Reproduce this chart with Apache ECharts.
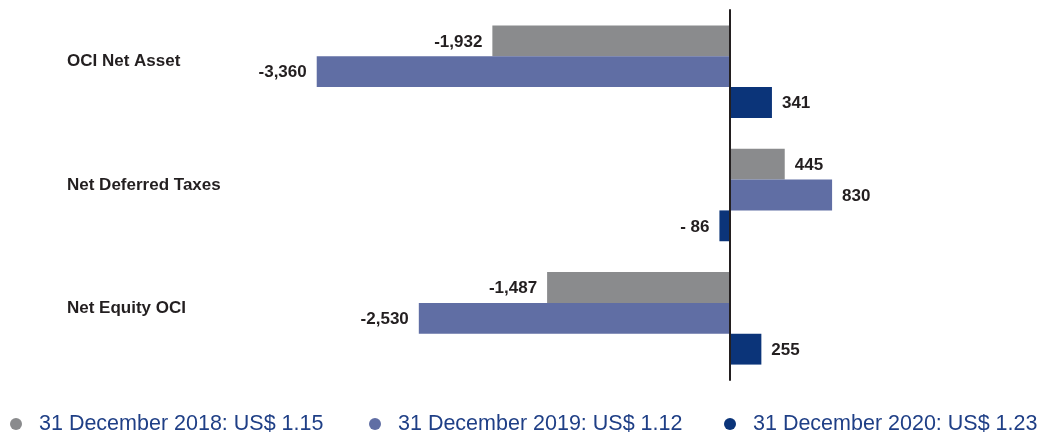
<!DOCTYPE html>
<html>
<head>
<meta charset="utf-8">
<script src="https://cdn.jsdelivr.net/npm/echarts@6/dist/echarts.min.js"></script>
<style>
  html, body { margin: 0; padding: 0; background: #fff; }
  #main { width: 1042px; height: 432px; }
</style>
</head>
<body>
<div id="main"></div>
<script>
// categories, top to bottom
var categories = ['OCI Net Asset', 'Net Deferred Taxes', 'Net Equity OCI'];
// series names (legend)
var seriesNames = [
    '31 December 2018: US$ 1.15',
    '31 December 2019: US$ 1.12',
    '31 December 2020: US$ 1.23'
];
var values2018 = [-1932, 445, -1487];
var values2019 = [-3360, 830, -2530];
var values2020 = [341, -86, 255];

var colors = ['#8a8b8d', '#606ea4', '#0b3479'];
var darkText = '#231f20';

// number formatting like the report: -1,932 / - 86
function fmt(v) {
    var a = Math.abs(v).toLocaleString('en-US');
    if (v < 0) return (Math.abs(v) < 1000 ? '- ' : '-') + a;
    return a;
}

function makeData(arr) {
    return arr.map(function (v) {
        return {
            value: v,
            label: { position: v < 0 ? 'left' : 'right' }
        };
    });
}

function makeSeries(name, arr, color) {
    return {
        name: name,
        type: 'bar',
        barGap: '0%',
        barCategoryGap: '25%',
        itemStyle: { color: color },
        label: {
            show: true,
            distance: 10,
            offset: [0, 1],
            fontFamily: 'Liberation Sans',
            fontWeight: 'bold',
            fontSize: 17,
            color: darkText,
            formatter: function (p) { return fmt(p.value); }
        },
        data: makeData(arr)
    };
}

var chart = echarts.init(document.getElementById('main'), null, { renderer: 'canvas' });

var legendText = {
    fontFamily: 'Liberation Sans',
    fontSize: 21.5,
    color: '#1f3f86',
    padding: [0, 0, 0, 12]
};
var legendLefts = [10, 369, 724];

var option = {
    animation: false,
    grid: { left: 238, right: 66, top: 10, bottom: 52 },
    legend: legendLefts.map(function (l, i) {
        return {
            data: [seriesNames[i]],
            left: l,
            top: 413,
            padding: 0,
            icon: 'circle',
            itemWidth: 12,
            itemHeight: 12,
            selectedMode: false,
            textStyle: legendText
        };
    }),
    xAxis: {
        type: 'value',
        min: -4000,
        max: 2000,
        axisLine: { show: false },
        axisTick: { show: false },
        axisLabel: { show: false },
        splitLine: { show: false }
    },
    yAxis: {
        type: 'category',
        inverse: true,
        data: categories,
        z: 10,
        axisLine: { show: true, onZero: true, lineStyle: { color: darkText, width: 2 } },
        axisTick: { show: false },
        axisLabel: {
            align: 'left',
            verticalAlign: 'bottom',
            lineHeight: 20,
            margin: 171,
            fontFamily: 'Liberation Sans',
            fontWeight: 'bold',
            fontSize: 17,
            color: darkText
        }
    },
    series: [
        makeSeries(seriesNames[0], values2018, colors[0]),
        makeSeries(seriesNames[1], values2019, colors[1]),
        makeSeries(seriesNames[2], values2020, colors[2])
    ]
};

chart.setOption(option);
</script>
</body>
</html>
